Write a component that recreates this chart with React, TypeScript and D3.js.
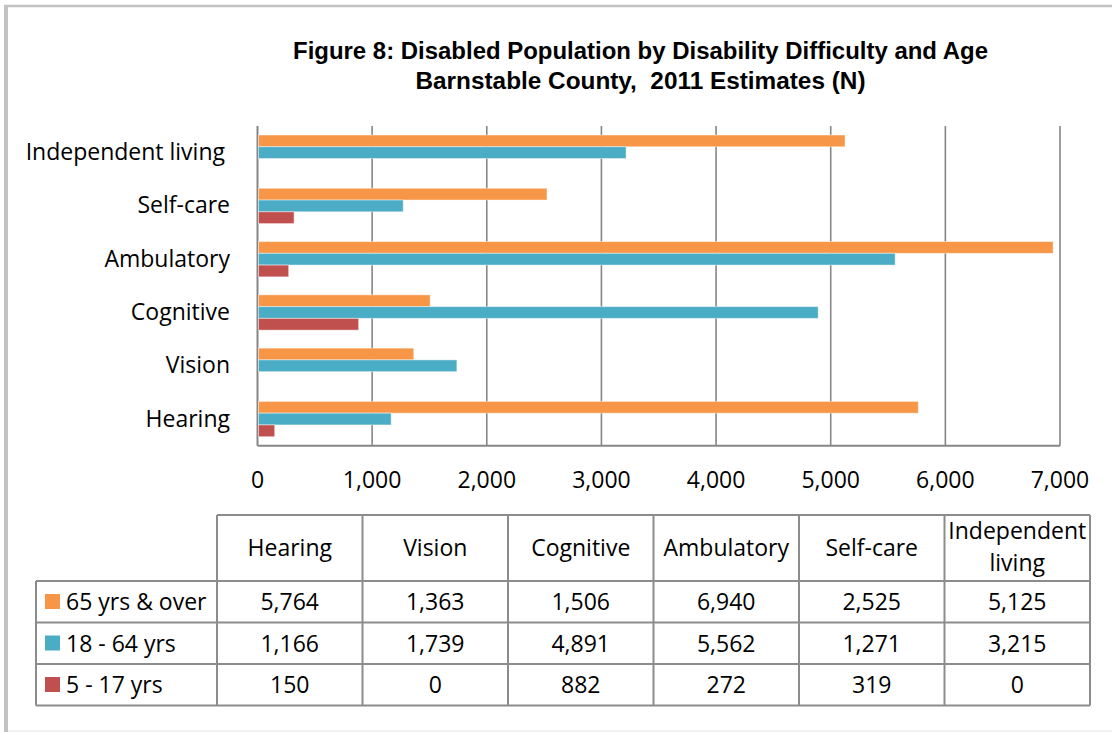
import React from "react";
import * as d3 from "d3";

const categories = ["Hearing", "Vision", "Cognitive", "Ambulatory", "Self-care", "Independent living"];
const seriesNames = ["65 yrs & over", "18 - 64 yrs", "5 - 17 yrs"];
const seriesColors = ["#F79646", "#4BACC6", "#C0504D"];
const over65 = [5764, 1363, 1506, 6940, 2525, 5125];
const age18to64 = [1166, 1739, 4891, 5562, 1271, 3215];
const age5to17 = [150, 0, 882, 272, 319, 0];
const xTicks = [0, 1000, 2000, 3000, 4000, 5000, 6000, 7000];
const titleLines = ["Figure 8: Disabled Population by Disability Difficulty and Age", "Barnstable County,  2011 Estimates (N)"];

const seriesValues = [over65, age18to64, age5to17];

const W = 1112;
const H = 732;
const plot = { left: 257.5, right: 1060, top: 126, bottom: 445.7 };
const table = { left: 217, right: 1090, rowLeft: 36, top: 515, headerBottom: 581, rowH: 41.5 };
const FONT = "'Open Sans', 'DejaVu Sans', sans-serif";
const FS = 23;
const TITLE_FONT = "'Liberation Sans', Arial, sans-serif";
const GRID = "#868686";
const TBL = "#8c8c8c";

export default function App() {
  const x = d3.scaleLinear().domain([0, 7000]).range([plot.left, plot.right]);
  const yCat = d3
    .scaleBand<string>()
    .domain([...categories].reverse())
    .range([plot.top, plot.bottom])
    .paddingInner(18 / 53.3)
    .paddingOuter(9 / 53.3);
  const ySeries = d3.scaleBand<number>().domain([0, 1, 2]).range([0, yCat.bandwidth()]);
  const col = d3.scaleBand<string>().domain(categories).range([table.left, table.right]);
  const fmt = d3.format(",");

  const rowTop = (i: number) => table.headerBottom + i * table.rowH;
  const tableBottom = rowTop(3);

  return (
    <svg width={W} height={H} style={{ position: "absolute", left: 0, top: 0, background: "#fff" }}>
      <rect x={0} y={0} width={W} height={H} fill="#fff" />
      {/* frame */}
      <line x1={4} x2={W} y1={6} y2={6} stroke="#c3c3c3" strokeWidth={2.5} />
      <line x1={6} x2={6} y1={5} y2={H} stroke="#c3c3c3" strokeWidth={4} />
      <line x1={8} x2={W} y1={731} y2={731} stroke="#ececec" strokeWidth={1.5} />

      {/* title */}
      {titleLines.map((t, i) => (
        <text
          key={i}
          x={640.5}
          y={59 + i * 30}
          textAnchor="middle"
          fontFamily={TITLE_FONT}
          fontWeight="bold"
          fontSize={23}
          fill="#000"
          style={{ whiteSpace: "pre" }}
          textLength={i === 0 ? 695 : 450}
          lengthAdjust="spacingAndGlyphs"
        >
          {t}
        </text>
      ))}

      {/* gridlines */}
      {xTicks.map((t) => (
        <line key={t} x1={x(t)} x2={x(t)} y1={plot.top} y2={plot.bottom} stroke={GRID} strokeWidth={t === 0 ? 2 : 1.6} />
      ))}
      <line x1={plot.left} x2={plot.right} y1={plot.bottom} y2={plot.bottom} stroke={GRID} strokeWidth={2} />

      {/* bars */}
      {categories.map((c, ci) =>
        seriesValues.map((vals, si) =>
          vals[ci] > 0 ? (
            <rect
              key={c + si}
              x={x(0) + 1}
              y={(yCat(c) as number) + (ySeries(si) as number)}
              width={x(vals[ci]) - x(0) - 1}
              height={ySeries.bandwidth()}
              fill={seriesColors[si]}
              stroke="#ffffff"
              strokeOpacity={0.45}
              strokeWidth={1}
            />
          ) : null
        )
      )}

      {/* category labels */}
      {categories.map((c) => (
        <text
          key={c}
          x={c === "Independent living" ? 225 : 230}
          y={(yCat(c) as number) + yCat.bandwidth() / 2 + 7.5}
          textAnchor="end"
          fontFamily={FONT}
          fontSize={FS}
          fill="#000"
        >
          {c}
        </text>
      ))}

      {/* x tick labels */}
      {xTicks.map((t) => (
        <text key={t} x={x(t)} y={488} textAnchor="middle" fontFamily={FONT} fontSize={FS} fill="#000">
          {fmt(t)}
        </text>
      ))}

      {/* data table */}
      <g fill="none" stroke={TBL} strokeWidth={2}>
        <line x1={table.left} x2={table.right} y1={table.top} y2={table.top} />
        {[0, 1, 2, 3].map((i) => (
          <line key={i} x1={table.rowLeft} x2={table.right} y1={rowTop(i)} y2={rowTop(i)} />
        ))}
        <line x1={table.rowLeft} x2={table.rowLeft} y1={table.headerBottom} y2={tableBottom} />
        {categories.map((c) => (
          <line key={c} x1={col(c) as number} x2={col(c) as number} y1={table.top} y2={tableBottom} />
        ))}
        <line x1={table.right} x2={table.right} y1={table.top} y2={tableBottom} />
      </g>

      {categories.map((c) => {
        const cx = (col(c) as number) + col.bandwidth() / 2;
        if (c === "Independent living") {
          return (
            <g key={c}>
              <text x={cx} y={539} textAnchor="middle" fontFamily={FONT} fontSize={FS} fill="#000">
                Independent
              </text>
              <text x={cx} y={571} textAnchor="middle" fontFamily={FONT} fontSize={FS} fill="#000">
                living
              </text>
            </g>
          );
        }
        return (
          <text key={c} x={cx} y={556} textAnchor="middle" fontFamily={FONT} fontSize={FS} fill="#000">
            {c}
          </text>
        );
      })}

      {seriesNames.map((s, si) => (
        <g key={s}>
          <rect x={45} y={rowTop(si) + 13} width={15} height={15} fill={seriesColors[si]} />
          <text x={66} y={rowTop(si) + 29} fontFamily={FONT} fontSize={FS} fill="#000">
            {s}
          </text>
          {categories.map((c, ci) => (
            <text
              key={c}
              x={(col(c) as number) + col.bandwidth() / 2}
              y={rowTop(si) + 29}
              textAnchor="middle"
              fontFamily={FONT}
              fontSize={FS}
              fill="#000"
            >
              {fmt(seriesValues[si][ci])}
            </text>
          ))}
        </g>
      ))}
    </svg>
  );
}
